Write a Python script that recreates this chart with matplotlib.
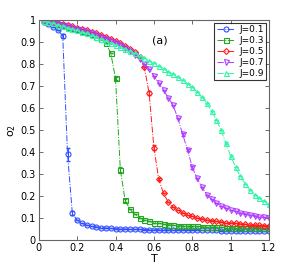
import matplotlib
matplotlib.use("Agg")
import matplotlib.pyplot as plt
import numpy as np

T = np.arange(1, 49) * 0.025

o2_J01 = [0.993, 0.983, 0.970, 0.955, 0.927, 0.390, 0.122, 0.090, 0.076, 0.068,
          0.063, 0.060, 0.057, 0.055, 0.053, 0.052, 0.051, 0.050, 0.050, 0.049,
          0.049, 0.048, 0.048, 0.047, 0.047, 0.047, 0.046, 0.046, 0.046, 0.045,
          0.045, 0.045, 0.045, 0.044, 0.044, 0.044, 0.044, 0.043, 0.043, 0.043,
          0.043, 0.043, 0.042, 0.042, 0.042, 0.042, 0.042, 0.041]
o2_J03 = [0.996, 0.992, 0.987, 0.982, 0.976, 0.970, 0.964, 0.958, 0.951, 0.944,
          0.935, 0.925, 0.912, 0.895, 0.850, 0.735, 0.320, 0.180, 0.140, 0.117,
          0.102, 0.092, 0.085, 0.080, 0.076, 0.073, 0.070, 0.068, 0.066, 0.065,
          0.064, 0.063, 0.062, 0.061, 0.060, 0.059, 0.059, 0.058, 0.057, 0.057,
          0.056, 0.056, 0.055, 0.055, 0.054, 0.054, 0.053, 0.053]
o2_J05 = [0.998, 0.995, 0.991, 0.987, 0.982, 0.977, 0.972, 0.966, 0.960, 0.954,
          0.947, 0.940, 0.932, 0.924, 0.915, 0.905, 0.894, 0.882, 0.869, 0.855,
          0.832, 0.785, 0.668, 0.420, 0.278, 0.212, 0.172, 0.150, 0.135, 0.124,
          0.115, 0.108, 0.102, 0.097, 0.093, 0.089, 0.086, 0.083, 0.080, 0.078,
          0.076, 0.074, 0.072, 0.070, 0.069, 0.068, 0.066, 0.065]
o2_J07 = [0.997, 0.993, 0.988, 0.983, 0.978, 0.972, 0.966, 0.960, 0.954, 0.947,
          0.940, 0.932, 0.924, 0.916, 0.907, 0.897, 0.886, 0.874, 0.860, 0.843,
          0.824, 0.802, 0.776, 0.746, 0.713, 0.680, 0.648, 0.612, 0.553, 0.480,
          0.410, 0.330, 0.280, 0.240, 0.207, 0.185, 0.168, 0.155, 0.145, 0.137,
          0.131, 0.125, 0.120, 0.115, 0.111, 0.107, 0.104, 0.100]
o2_J09 = [0.995, 0.990, 0.985, 0.978, 0.972, 0.966, 0.960, 0.953, 0.946, 0.939,
          0.931, 0.923, 0.915, 0.906, 0.897, 0.888, 0.879, 0.869, 0.859, 0.849,
          0.838, 0.827, 0.815, 0.803, 0.791, 0.779, 0.766, 0.753, 0.740, 0.726,
          0.710, 0.694, 0.674, 0.650, 0.622, 0.587, 0.547, 0.500, 0.440, 0.382,
          0.332, 0.290, 0.256, 0.228, 0.206, 0.190, 0.176, 0.165]

# error bars only noticeable near the transitions
err_J01 = np.zeros(48); err_J01[4] = 0.01; err_J01[5] = 0.03; err_J01[6] = 0.01
err_J03 = np.zeros(48); err_J03[15] = 0.008; err_J03[16] = 0.012; err_J03[17] = 0.006
err_J05 = np.zeros(48); err_J05[22] = 0.008; err_J05[23] = 0.012; err_J05[24] = 0.006
err_J07 = np.zeros(48); err_J07[29] = 0.006; err_J07[30] = 0.006; err_J07[31] = 0.006
err_J09 = np.zeros(48); err_J09[38] = 0.005; err_J09[39] = 0.005

series = [
    ('J=0.1', o2_J01, err_J01, '#2f4fff', 'o'),
    ('J=0.3', o2_J03, err_J03, '#1fa81f', 's'),
    ('J=0.5', o2_J05, err_J05, '#ff1a1a', 'D'),
    ('J=0.7', o2_J07, err_J07, '#b03cff', 'v'),
    ('J=0.9', o2_J09, err_J09, '#33f5a8', '^'),
]

plt.rcParams['font.family'] = 'DejaVu Sans'
fig = plt.figure(figsize=(2.98, 2.71), dpi=100)
ax = fig.add_axes([0.13, 0.114, 0.773, 0.812])

for lab, y, e, c, m in series:
    ms = 3.0 if m == 'D' else 3.6
    ax.errorbar(T, y, yerr=e, fmt='none', ecolor=c, elinewidth=0.7, capsize=1.5)
    ax.plot(T, y, '-.', marker=m, color=c, mfc='none', mec=c,
            ms=ms, lw=0.7, mew=0.8, label=lab)

ax.set_xlim(0, 1.2)
ax.set_ylim(0, 1)
ax.set_xticks([0, 0.2, 0.4, 0.6, 0.8, 1.0, 1.2])
ax.set_xticklabels(['0', '0.2', '0.4', '0.6', '0.8', '1', '1.2'])
ax.set_yticks(np.arange(0, 1.01, 0.1))
ax.set_yticklabels(['0', '0.1', '0.2', '0.3', '0.4', '0.5', '0.6', '0.7', '0.8', '0.9', '1'])
ax.tick_params(direction='in', length=3, width=0.6, labelsize=7, top=True, right=True,
               color='#555555', pad=2)
for s in ax.spines.values():
    s.set_color('#666666')
    s.set_linewidth(0.8)
ax.set_xlabel('T', fontsize=8, labelpad=1)
ax.set_ylabel('o$_2$', fontsize=8, labelpad=2)
ax.text(0.63, 0.905, '(a)', fontsize=8, ha='center', va='center')

leg = ax.legend(loc='upper right', fontsize=6.5, frameon=True, fancybox=False,
                borderpad=0.3, labelspacing=0.2, handlelength=2.0, handletextpad=0.5,
                borderaxespad=0.3)
leg.get_frame().set_edgecolor('black')
leg.get_frame().set_linewidth(0.8)

fig.savefig('out.png', dpi=100)
